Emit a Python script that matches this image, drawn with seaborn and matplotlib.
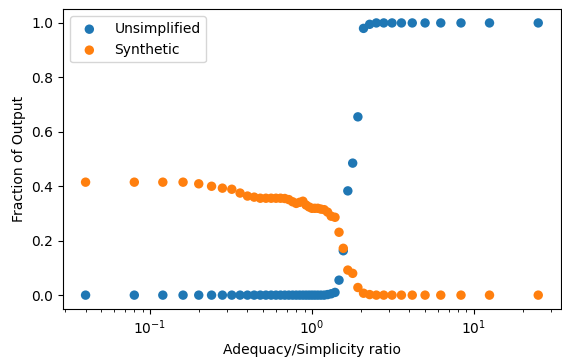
import matplotlib
matplotlib.use("Agg")
import matplotlib.pyplot as plt
import seaborn as sns
import pandas as pd

ratio = [0.04, 0.08, 0.12, 0.16, 0.20, 0.24, 0.28, 0.32, 0.36, 0.40,
         0.44, 0.48, 0.52, 0.56, 0.60, 0.64, 0.68, 0.72, 0.76, 0.80,
         0.84, 0.88, 0.92, 0.96, 1.00,
         1.0417, 1.0870, 1.1364, 1.1905, 1.25, 1.3158, 1.3889, 1.4706,
         1.5625, 1.6667, 1.7857, 1.9231, 2.0833, 2.2727, 2.5, 2.7778,
         3.125, 3.5714, 4.1667, 5.0, 6.25, 8.3333, 12.5, 25.0]

unsimplified = [0.0, 0.0, 0.0, 0.0, 0.0, 0.0, 0.0, 0.0, 0.0, 0.0,
                0.0, 0.0, 0.0, 0.0, 0.0, 0.0, 0.0, 0.0, 0.0, 0.0,
                0.0, 0.0, 0.0, 0.0, 0.0,
                0.0, 0.0, 0.0, 0.0, 0.002, 0.005, 0.01, 0.055,
                0.163, 0.383, 0.485, 0.655, 0.980, 0.995, 1.0, 1.0,
                1.0, 1.0, 1.0, 1.0, 1.0, 1.0, 1.0, 1.0]

synthetic = [0.415, 0.415, 0.415, 0.415, 0.409, 0.400, 0.393, 0.389, 0.375, 0.364,
             0.360, 0.356, 0.356, 0.356, 0.356, 0.356, 0.355, 0.351, 0.343, 0.337,
             0.341, 0.345, 0.331, 0.324, 0.319,
             0.319, 0.319, 0.316, 0.314, 0.305, 0.290, 0.286, 0.231,
             0.172, 0.092, 0.080, 0.028, 0.007, 0.002, 0.0, 0.0,
             0.0, 0.0, 0.0, 0.0, 0.0, 0.0, 0.0, 0.0]

series_names = ["Unsimplified", "Synthetic"]
colors = ["#1f77b4", "#ff7f0e"]

df = pd.DataFrame({"ratio": ratio, "Unsimplified": unsimplified, "Synthetic": synthetic})

fig, ax = plt.subplots(figsize=(5.62, 3.59), dpi=100)
fig.subplots_adjust(left=0.112, right=0.998, top=0.974, bottom=0.140)

for name, c in zip(series_names, colors):
    sns.scatterplot(data=df, x="ratio", y=name, ax=ax, color=c, s=46,
                    linewidth=0, edgecolor="none", label=name)

ax.set_xscale("log")
ax.set_xlabel("Adequacy/Simplicity ratio")
ax.set_ylabel("Fraction of Output")
ax.legend(loc="upper left")

fig.savefig("out.png", dpi=100)
